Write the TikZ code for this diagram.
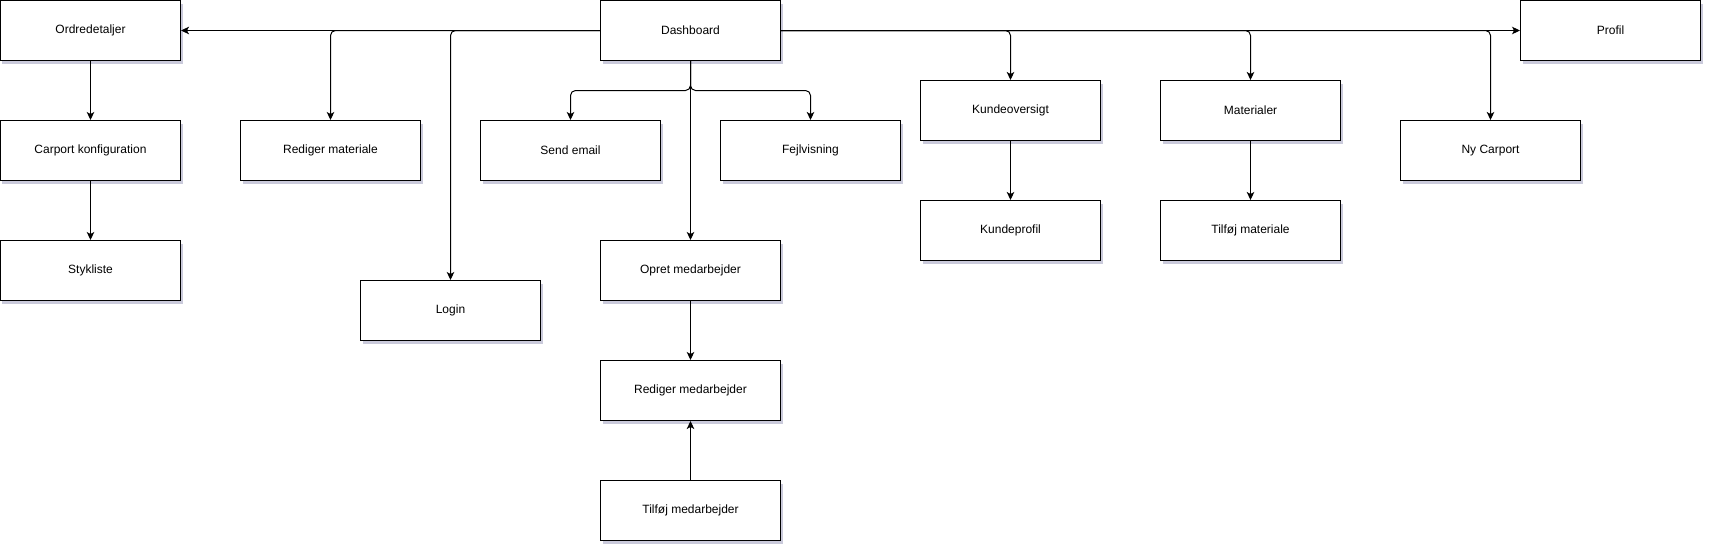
\documentclass[tikz,border=0pt]{standalone}
\usepackage{fontspec}
\setmainfont{Liberation Sans}
\usepackage{tikz}
\usetikzlibrary{arrows.meta, shadows}

\begin{document}
\begin{tikzpicture}[x=1pt, y=-1pt,
		box/.style={draw, line width=1pt, fill=white, minimum width=180pt, minimum height=60pt,
			inner sep=0pt, font=\fontsize{12}{14}\selectfont,
			drop shadow={shadow xshift=2pt, shadow yshift=-3pt, fill=blue!20!gray, opacity=0.35}},
		arr/.style={-{Stealth[length=8pt, width=7.5pt, inset=2pt]}, line width=1pt, rounded corners=5pt}]
		% Canvas
		\useasboundingbox (-0.5,-0.5) rectangle (1711.5,551.5);
		
		% Boxes (centres)
		\foreach \name/\x/\y/\txt in {ordre/90/30/Ordredetaljer, carport/90/150/Carport konfiguration,
			styk/90/270/Stykliste, redmat/330/150/Rediger materiale, login/450/310/Login,
			email/570/150/Send email, fejl/810/150/Fejlvisning, dash/690/30/Dashboard,
			opret/690/270/Opret medarbejder, redmed/690/390/Rediger medarbejder,
			tilmed/690/510/Tilføj medarbejder, kunde/1010/110/Kundeoversigt,
			kprofil/1010/230/Kundeprofil, mat/1250/110/Materialer,
			tilmat/1250/230/Tilføj materiale, ny/1490/150/Ny Carport, profil/1610/30/Profil}
		\node[box] (\name) at (\x,\y) {\txt};
		
		% Split point below the dashboard
		\coordinate (split) at (690,90);
		
		% Connectors, left side
		\draw[arr] (dash.west) -- (ordre.east);
		\draw[arr] (dash.west) -| (redmat.north);
		\draw[arr] (dash.west) -| (login.north);
		\draw[arr] (ordre) -- (carport);
		\draw[arr] (carport) -- (styk);
		
		% Connectors, below
		\draw[arr] (dash.south) -- (split) -| (email.north);
		\draw[arr] (dash.south) -- (split) -| (fejl.north);
		\draw[arr] (dash.south) -- (opret.north);
		\draw[arr] (opret) -- (redmed);
		\draw[arr] (tilmed) -- (redmed);
		
		% Connectors, right side
		\draw[arr] (dash.east) -- (profil.west);
		\draw[arr] (dash.east) -| (kunde.north);
		\draw[arr] (dash.east) -| (mat.north);
		\draw[arr] (dash.east) -| (ny.north);
		\draw[arr] (kunde) -- (kprofil);
		\draw[arr] (mat) -- (tilmat);
	\end{tikzpicture}
\end{document}
